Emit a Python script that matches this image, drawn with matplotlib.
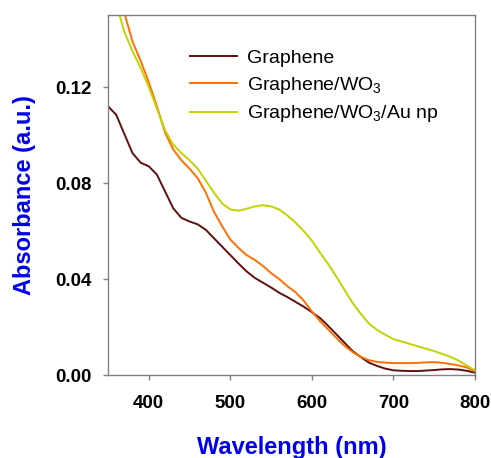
import matplotlib
matplotlib.use("Agg")
import matplotlib.pyplot as plt

plt.rcParams['font.family'] = ['Liberation Sans', 'DejaVu Sans']
plt.rcParams['mathtext.fontset'] = 'custom'
plt.rcParams['mathtext.rm'] = 'Liberation Sans'
plt.rcParams['mathtext.it'] = 'Liberation Sans'

wavelength = list(range(350, 801, 10))

graphene = [0.112, 0.1085, 0.1005, 0.0925, 0.0885, 0.0870, 0.0835, 0.0765, 0.0695, 0.0655,
            0.0640, 0.0628, 0.0605, 0.0570, 0.0535, 0.0500, 0.0465, 0.0432, 0.0405, 0.0385,
            0.0365, 0.0343, 0.0325, 0.0305, 0.0285, 0.0262, 0.0238, 0.0205, 0.0170, 0.0135,
            0.0100, 0.0075, 0.0052, 0.0038, 0.0027, 0.0020, 0.0018, 0.0017, 0.0017, 0.0019,
            0.0021, 0.0024, 0.0025, 0.0023, 0.0018, 0.0010]

graphene_wo3 = [0.178, 0.164, 0.151, 0.139, 0.131, 0.122, 0.112, 0.101, 0.094, 0.0895,
                0.086, 0.082, 0.076, 0.068, 0.062, 0.0565, 0.053, 0.050, 0.048, 0.0455,
                0.0425, 0.0400, 0.0370, 0.0345, 0.0310, 0.0265, 0.0225, 0.0190, 0.0155, 0.0122,
                0.0096, 0.0076, 0.0062, 0.0055, 0.0052, 0.0050, 0.0050, 0.0050, 0.0051, 0.0053,
                0.0054, 0.0051, 0.0046, 0.0040, 0.0032, 0.0015]

graphene_wo3_au = [0.168, 0.155, 0.143, 0.135, 0.128, 0.120, 0.111, 0.102, 0.096, 0.0925,
                   0.0895, 0.0860, 0.0810, 0.0760, 0.0715, 0.0690, 0.0685, 0.0693, 0.0703, 0.0708,
                   0.0703, 0.0690, 0.0665, 0.0635, 0.0600, 0.0560, 0.0510, 0.0463, 0.0410, 0.0355,
                   0.0300, 0.0255, 0.0215, 0.0188, 0.0168, 0.0150, 0.0140, 0.0130, 0.0120, 0.0110,
                   0.0100, 0.0088, 0.0076, 0.0060, 0.0040, 0.0020]

labels = ['Graphene', r'Graphene/WO$_3$', r'Graphene/WO$_3$/Au np']
colors = ['#5e1010', '#ff7000', '#c2d400']

x_ticks = [400, 500, 600, 700, 800]
y_ticks = [0.00, 0.04, 0.08, 0.12]

fig = plt.figure(figsize=(4.91, 4.58), dpi=100)
ax = fig.add_axes([0.22, 0.181, 0.7474, 0.786])

for ys, lab, c in zip([graphene, graphene_wo3, graphene_wo3_au], labels, colors):
    ax.plot(wavelength, ys, color=c, lw=1.4, label=lab)

ax.set_xlim(350, 800)
ax.set_ylim(0, 0.15)
ax.set_xticks(x_ticks)
ax.set_yticks(y_ticks)
ax.set_yticklabels([f'{v:.2f}' for v in y_ticks])

for s in ax.spines.values():
    s.set_color('#808080')
    s.set_linewidth(1.0)
ax.tick_params(direction='out', length=3.5, width=1.0, color='#808080')
ax.tick_params(axis='x', pad=11)
ax.tick_params(axis='y', pad=8)
for t in ax.get_xticklabels() + ax.get_yticklabels():
    t.set_fontsize(13.5)
    t.set_fontweight('bold')

ax.set_xlabel('Wavelength (nm)', fontsize=17, fontweight='bold', color='#0000ee', labelpad=17)
ax.set_ylabel('Absorbance (a.u.)', fontsize=17, fontweight='bold', color='#0000ee', labelpad=14)

ax.legend(loc='upper left', bbox_to_anchor=(0.223, 0.905), frameon=False, fontsize=14,
          handlelength=2.4, handletextpad=0.55, borderpad=0, borderaxespad=0,
          labelspacing=0.4)

fig.savefig('out.png', dpi=100)
